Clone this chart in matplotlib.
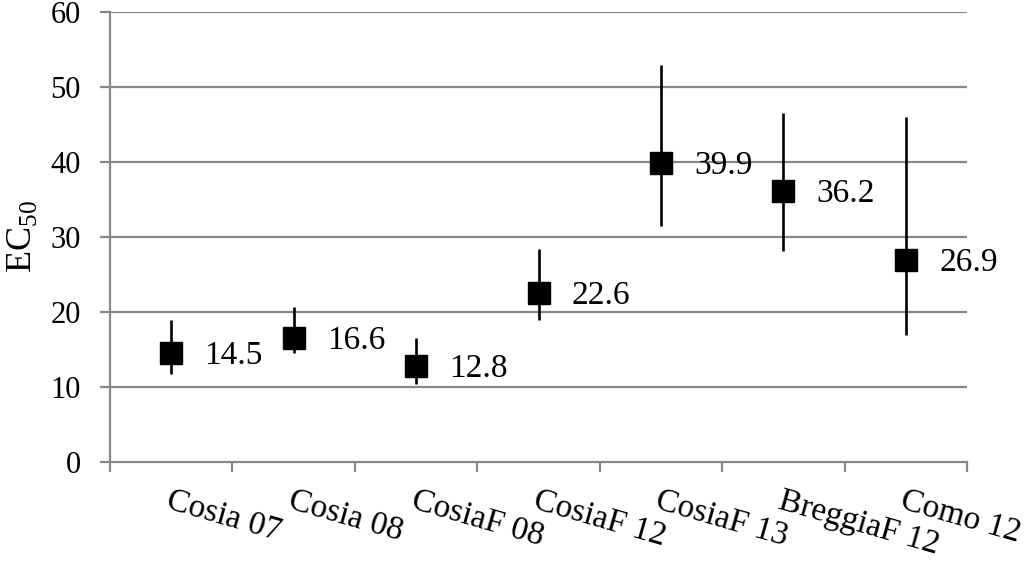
import matplotlib.pyplot as plt
import numpy as np

plt.rcParams['font.family'] = ['Liberation Serif', 'DejaVu Serif']
plt.rcParams['mathtext.fontset'] = 'custom'
plt.rcParams['mathtext.rm'] = 'Liberation Serif'

# data
sites = ['Cosia 07', 'Cosia 08', 'CosiaF 08', 'CosiaF 12', 'CosiaF 13', 'BreggiaF 12', 'Como 12']
ec50 = [14.5, 16.6, 12.8, 22.6, 39.9, 36.2, 26.9]
ci_low = [11.7, 14.6, 10.4, 18.9, 31.5, 28.2, 16.9]
ci_high = [19.0, 20.7, 16.5, 28.4, 53.0, 46.5, 46.0]

x = np.arange(len(sites))
err = [np.array(ec50) - np.array(ci_low), np.array(ci_high) - np.array(ec50)]

fig = plt.figure(figsize=(10.24, 5.65), dpi=100)
ax = fig.add_axes([110/1024, 1 - 462/565, (967 - 110)/1024, (462 - 12)/565])

grid_col = '#888888'
for y in range(10, 61, 10):
    ax.axhline(y, color=grid_col, lw=1.6, zorder=0)

ax.errorbar(x, ec50, yerr=err, fmt='s', color='black', ms=16.5,
            elinewidth=1.9, capsize=0, zorder=3)

for xi, v in zip(x, ec50):
    ax.annotate(f'{v:.1f}', (xi, v), xytext=(24, -2), textcoords='offset points',
                ha='left', va='center', fontsize=24)

ax.set_xlim(-0.5, len(sites) - 0.5)
ax.set_ylim(0, 60)
ax.set_yticks(range(0, 61, 10))
ax.tick_params(axis='y', labelsize=22, length=7, width=1.6, color=grid_col, pad=14)

ax.set_xticks(np.arange(len(sites) + 1) - 0.5)
ax.set_xticklabels([])
ax.tick_params(axis='x', which='major', length=7, width=1.6, color=grid_col)
ax.set_xticks(x, minor=True)
ax.set_xticklabels(sites, minor=True, rotation=-16, rotation_mode='anchor',
                   ha='left', va='top', fontsize=24)
ax.tick_params(axis='x', which='minor', length=0, pad=17)

for s in ['top', 'right']:
    ax.spines[s].set_visible(False)
for s in ['left', 'bottom']:
    ax.spines[s].set_color(grid_col)
    ax.spines[s].set_linewidth(1.6)

ax.set_ylabel(r'EC$_{\mathrm{50}}$', fontsize=26, labelpad=8)

fig.savefig('out.png', dpi=100)
